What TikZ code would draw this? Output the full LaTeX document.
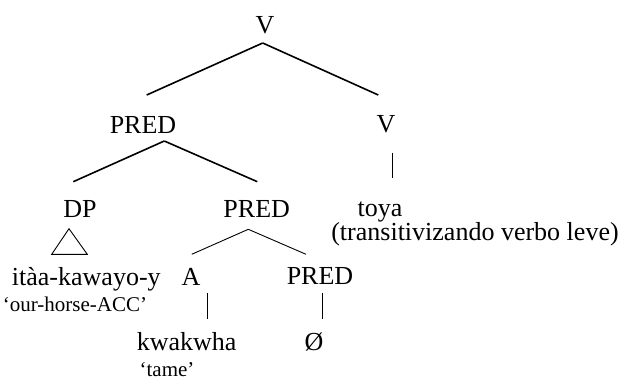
\documentclass[tikz,border=0pt]{standalone}
\usepackage{fontspec}
\setmainfont{Liberation Serif}
\usetikzlibrary{positioning}

\begin{document}
\begin{tikzpicture}[x=1pt, y=-1pt]
	\useasboundingbox (0,0) rectangle (625,380);

	% styles
	\tikzset{
	cat/.style = {anchor=base, inner sep=0pt, font=\fontsize{26}{30}\selectfont},
	gloss/.style = {anchor=base, inner sep=0pt, font=\fontsize{21}{25}\selectfont},
	branch/.style = {line width=1.6pt},
	twig/.style = {line width=0.9pt}
	}

	% categories
	\node[cat] (v0)    at (265,33)   {V};
	\node[cat] (pred1) at (143,133)  {PRED};
	\node[cat] (v1)    at (386,132)  {V};
	\node[cat] (dp)    at (80,217)   {DP};
	\node[cat] (pred2) at (256.7,217) {PRED};
	\node[cat] (a)     at (191,285)  {A};
	\node[cat] (pred3) at (320,284)  {PRED};

	% words
	\node[cat] (toya)   at (380,216)   {toya};
	\node[cat] (toyagl) at (475,240)   {(transitivizando verbo leve)};
	\node[cat] (itaa)   at (86.3,285)  {itàa-kawayo-y};
	\node[gloss] (itaagl) at (75,311.7) {`our-horse-ACC'};
	\node[cat] (kwak)   at (186.7,350) {kwakwha};
	\node[gloss] (kwakgl) at (167,376) {`tame'};
	\node[cat] (empty)  at (314,350)   {Ø};

	% branch points
	\coordinate (v0b)    at (262.7,43);
	\coordinate (pred1t) at (146.7,95);
	\coordinate (v1t)    at (378.3,95);
	\coordinate (pred1b) at (164.3,141);
	\coordinate (dpt)    at (73.3,181.7);
	\coordinate (pred2t) at (257.3,181.7);
	\coordinate (pred2b) at (248.3,229.3);
	\coordinate (at)     at (191.7,254.3);
	\coordinate (pred3t) at (306,254.3);
	\coordinate (v1b)    at (392.7,152.7);
	\coordinate (toyat)  at (392.7,178.3);
	\coordinate (ab)     at (207.7,293);
	\coordinate (kwakt)  at (207.7,319);
	\coordinate (pred3b) at (322.7,293);
	\coordinate (emptyt) at (322.7,319);

	% tree
	\draw (v0b) edge [branch] (pred1t);
	\draw (v0b) edge [branch] (v1t);
	\draw (pred1b) edge [branch] (dpt);
	\draw (pred1b) edge [branch] (pred2t);
	\draw (pred2b) edge [twig] (at);
	\draw (pred2b) edge [twig] (pred3t);
	\draw (v1b) edge [twig] (toyat);
	\draw (ab) edge [twig] (kwakt);
	\draw (pred3b) edge [twig] (emptyt);

	% triangle under DP
	\draw[twig] (69,228.7) -- (51.7,254.3) -- (87.3,254.3) -- cycle;

\end{tikzpicture}
\end{document}
